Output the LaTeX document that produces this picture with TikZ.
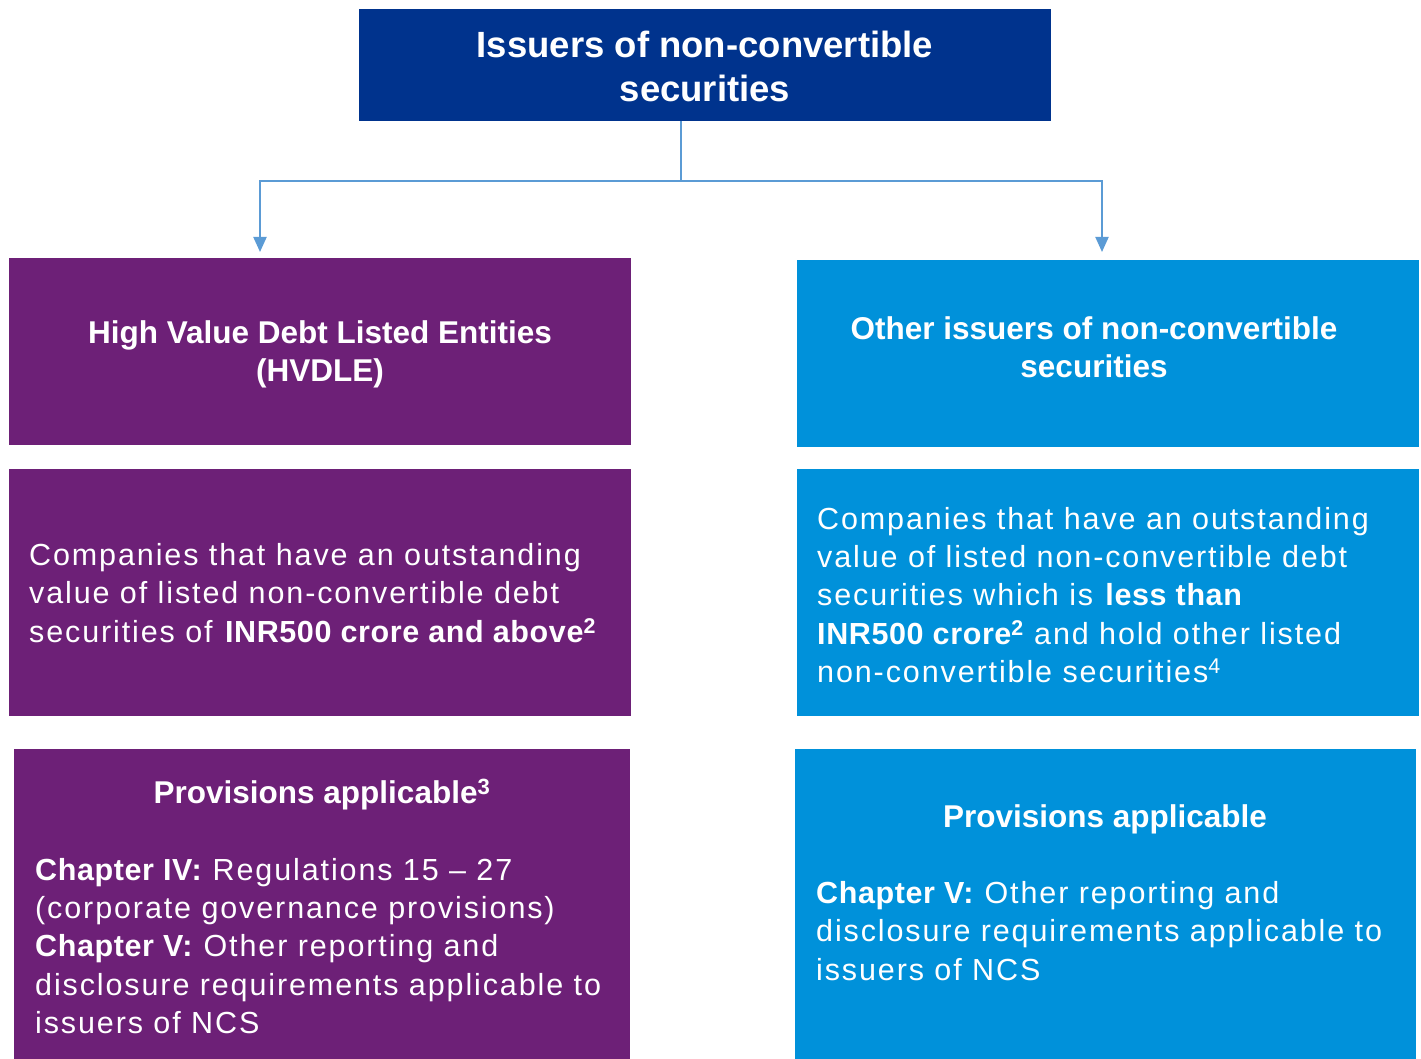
\documentclass[tikz,border=0pt]{standalone}
\usepackage{fontspec}
\setmainfont{Liberation Sans}
\newfontfamily\headfont{Liberation Sans}
\newfontfamily\bodyfont[LetterSpace=6.2,BoldFeatures={LetterSpace=2}]{Liberation Sans}
\usetikzlibrary{arrows.meta}
\definecolor{kdark}{HTML}{00338D}
\definecolor{kpurple}{HTML}{6D2077}
\definecolor{kblue}{HTML}{0091DA}
\definecolor{kline}{HTML}{5B9BD5}
\tikzset{
  box/.style={draw=none, inner sep=0pt, outer sep=0pt},
  titletext/.style={text=white, inner sep=0pt, align=center, font=\headfont\bfseries\fontsize{36.5}{44}\selectfont},
  headtext/.style={text=white, inner sep=0pt, align=center, font=\headfont\bfseries\fontsize{31.5}{38}\selectfont},
  bodytext/.style={text=white, inner sep=0pt, align=left, font=\bodyfont\fontsize{30.5}{38.4}\selectfont},
  conn/.style={draw=kline, line width=2pt, -{Triangle[width=13pt,length=15pt]}}
}
\begin{document}
\begin{tikzpicture}[x=1pt,y=-1pt]
\useasboundingbox (0,0) rectangle (1421,1059);
% boxes
\node[box, fill=kdark, minimum width=692pt, minimum height=112pt] (top) at (705,65) {};
\node[box, fill=kpurple, minimum width=622pt, minimum height=187pt] (l1) at (320,351.5) {};
\node[box, fill=kblue, minimum width=622pt, minimum height=187pt] (r1) at (1108,353.5) {};
\node[box, fill=kpurple, minimum width=622pt, minimum height=247pt] (l2) at (320,592.5) {};
\node[box, fill=kblue, minimum width=622pt, minimum height=247pt] (r2) at (1108,592.5) {};
\node[box, fill=kpurple, minimum width=616pt, minimum height=310pt] (l3) at (322,904) {};
\node[box, fill=kblue, minimum width=621pt, minimum height=310pt] (r3) at (1105.5,904) {};
% texts
\node[titletext] (ttop) at (705,66) {Issuers of non-convertible\\securities};
\node[headtext] (tl1) at (320,354) {High Value Debt Listed Entities\\(HVDLE)};
\node[headtext] (tr1) at (1094,347) {Other issuers of non-convertible\\securities};
\node[bodytext, anchor=west] (tl2) at (29,593) {Companies that have an outstanding\\value of listed non-convertible debt\\securities of \textbf{INR500 crore and above\textsuperscript{2}}};
\node[bodytext, anchor=west] (tr2) at (817,595) {Companies that have an outstanding\\value of listed non-convertible debt\\securities which is \textbf{less than}\\\textbf{INR500 crore\textsuperscript{2}} and hold other listed\\non-convertible securities\textsuperscript{4}};
\node[headtext] (hl3) at (322,795) {Provisions applicable\textsuperscript{3}};
\node[bodytext, anchor=west] (bl3) at (35,946) {\textbf{Chapter IV:} Regulations 15 \textendash\ 27\\(corporate governance provisions)\\\textbf{Chapter V:} Other reporting and\\disclosure requirements applicable to\\issuers of NCS};
\node[headtext] (hr3) at (1105,819) {Provisions applicable};
\node[bodytext, anchor=west] (br3) at (816,931) {\textbf{Chapter V:} Other reporting and\\disclosure requirements applicable to\\issuers of NCS};
% connectors
\coordinate (split) at (681,181);
\coordinate (endl) at (260,252);
\coordinate (endr) at (1102,252);
\draw[draw=kline, line width=2pt] (top.south -| split) -- (split);
\draw[conn] (split) -| (endl);
\draw[conn] (split) -| (endr);
\end{tikzpicture}
\end{document}
